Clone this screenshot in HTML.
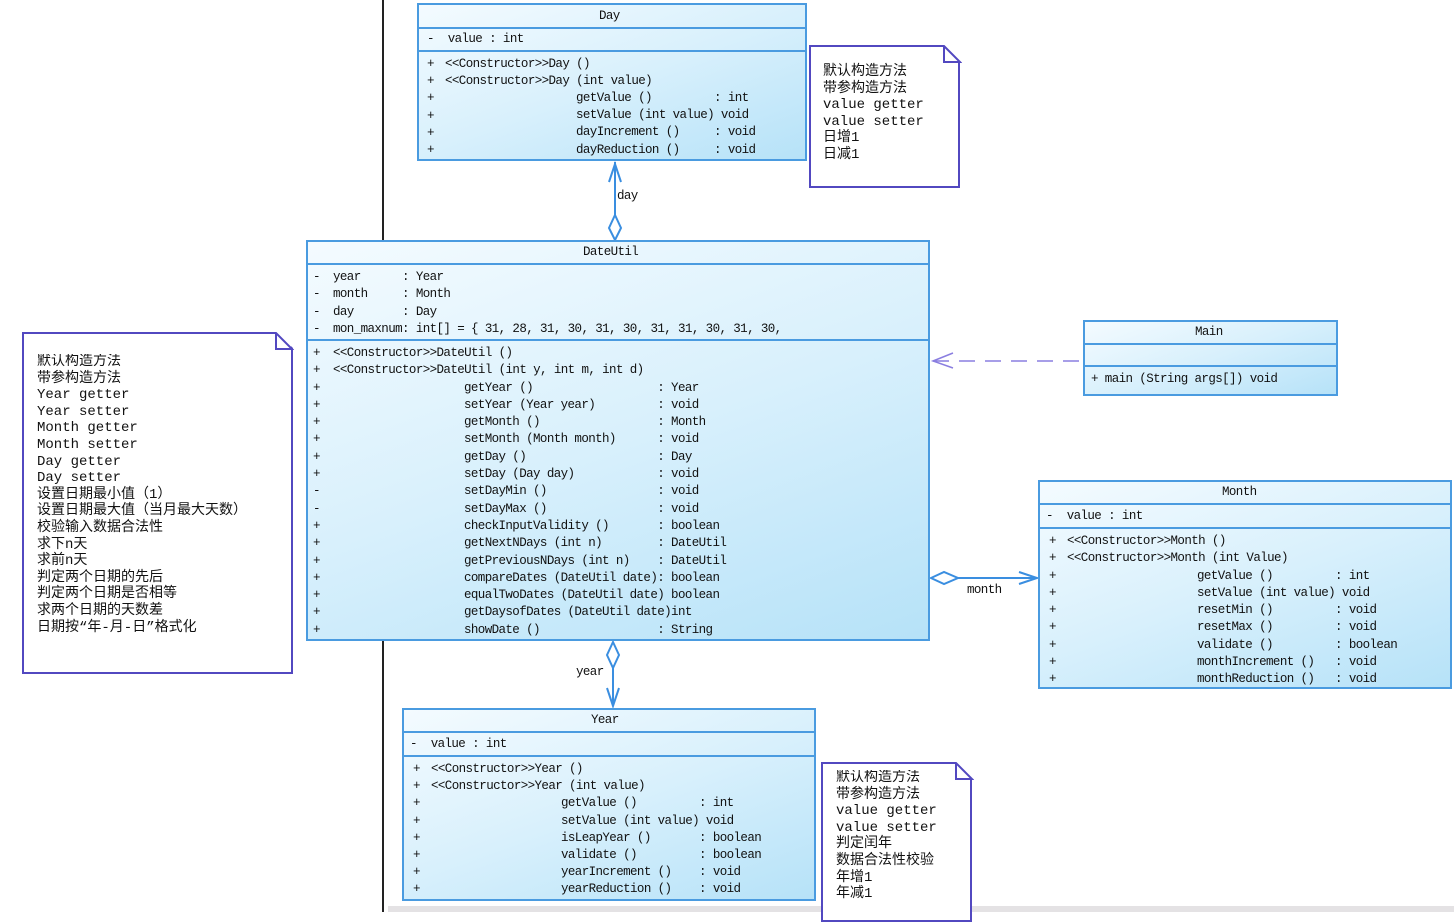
<!DOCTYPE html>
<html><head><meta charset="utf-8"><style>
body{margin:0;width:1454px;height:912px;background:#fff;position:relative;overflow:hidden;font-family:"Liberation Mono","Noto Sans CJK SC",monospace;font-size:12.5px;letter-spacing:-0.6px;color:#111}
.c{position:absolute;border:2px solid #4a9be0;background:linear-gradient(160deg,#f4fbff 0%,#d8f0fc 50%,#b6e2f8 100%);box-sizing:border-box}
.hl{position:absolute;left:0;right:0;border-top:2px solid #4a9be0}
.t{position:absolute;white-space:pre;line-height:14px}
.n{position:absolute;border:2px solid #5248c0;background:#fff;box-sizing:border-box}
.nt{position:absolute;white-space:pre;font-family:"Liberation Mono","Noto Sans CJK SC",monospace;font-size:14px;letter-spacing:0;line-height:16.6px}
</style></head><body>
<div style="position:absolute;left:382px;top:0;width:2px;height:912px;background:#222"></div>
<div style="position:absolute;left:388px;top:906px;width:1066px;height:6px;background:#e4e2e4"></div>

<svg width="1454" height="912" style="position:absolute;left:0;top:0">
<g stroke="#3a8ee0" stroke-width="2" fill="none">
<line x1="615" y1="162" x2="615" y2="215"/>
<polygon points="615,215 621,228 615,240 609,228" fill="#fff"/>
<polyline points="609,182 615,164 621,182"/>
<line x1="613" y1="668" x2="613" y2="706"/>
<polygon points="613,642 619,655 613,668 607,655" fill="#fff"/>
<polyline points="607,688 613,706 619,688"/>
<line x1="958" y1="578" x2="1037" y2="578"/>
<polygon points="931,578 944,572 958,578 944,584" fill="#fff"/>
<polyline points="1019,572 1037,578 1019,584"/>
</g>
<g stroke="#8a7ee0" stroke-width="1.5" fill="none">
<line x1="933" y1="361" x2="1083" y2="361" stroke-dasharray="16,10"/>
<polyline points="953,353 933,361 953,368"/>
</g>
</svg>
<div class="t" style="left:617px;top:189px">day</div>
<div class="t" style="left:576px;top:665px">year</div>
<div class="t" style="left:967px;top:583px">month</div>

<!-- Day -->
<div class="c" style="left:417px;top:3px;width:390px;height:158px">
<div class="hl" style="top:22px"></div><div class="hl" style="top:45px"></div>
<div class="t" style="left:180px;top:4px">Day</div>
<div class="t" style="left:8px;top:27px">-  value : int</div>
<div class="t" style="left:8px;top:51px;line-height:17.2px">+
+
+
+
+
+</div>
<div class="t" style="left:26px;top:51px;line-height:17.2px">&lt;&lt;Constructor&gt;&gt;Day ()
&lt;&lt;Constructor&gt;&gt;Day (int value)</div>
<div class="t" style="left:157px;top:85px;line-height:17.2px">getValue ()         : int
setValue (int value) void
dayIncrement ()     : void
dayReduction ()     : void</div>
</div>

<!-- DateUtil -->
<div class="c" style="left:306px;top:240px;width:624px;height:401px">
<div class="hl" style="top:21px"></div><div class="hl" style="top:97px"></div>
<div class="t" style="left:275px;top:3px">DateUtil</div>
<div class="t" style="left:5px;top:27px;line-height:17.3px">-
-
-
-</div>
<div class="t" style="left:25px;top:27px;line-height:17.3px">year      : Year
month     : Month
day       : Day
mon_maxnum: int[] = { 31, 28, 31, 30, 31, 30, 31, 31, 30, 31, 30,</div>
<div class="t" style="left:5px;top:103px;line-height:17.3px">+
+
+
+
+
+
+
+
-
-
+
+
+
+
+
+
+</div>
<div class="t" style="left:25px;top:103px;line-height:17.3px">&lt;&lt;Constructor&gt;&gt;DateUtil ()
&lt;&lt;Constructor&gt;&gt;DateUtil (int y, int m, int d)</div>
<div class="t" style="left:156px;top:137.6px;line-height:17.3px">getYear ()                  : Year
setYear (Year year)         : void
getMonth ()                 : Month
setMonth (Month month)      : void
getDay ()                   : Day
setDay (Day day)            : void
setDayMin ()                : void
setDayMax ()                : void
checkInputValidity ()       : boolean
getNextNDays (int n)        : DateUtil
getPreviousNDays (int n)    : DateUtil
compareDates (DateUtil date): boolean
equalTwoDates (DateUtil date) boolean
getDaysofDates (DateUtil date)int
showDate ()                 : String</div>
</div>

<!-- Main -->
<div class="c" style="left:1083px;top:320px;width:255px;height:76px">
<div class="hl" style="top:21px"></div><div class="hl" style="top:43px"></div>
<div class="t" style="left:110px;top:3px">Main</div>
<div class="t" style="left:6px;top:50px">+ main (String args[]) void</div>
</div>

<!-- Month -->
<div class="c" style="left:1038px;top:480px;width:414px;height:209px">
<div class="hl" style="top:21px"></div><div class="hl" style="top:45px"></div>
<div class="t" style="left:182px;top:3px">Month</div>
<div class="t" style="left:6px;top:27px">-  value : int</div>
<div class="t" style="left:9px;top:51px;line-height:17.3px">+
+
+
+
+
+
+
+
+</div>
<div class="t" style="left:27px;top:51px;line-height:17.3px">&lt;&lt;Constructor&gt;&gt;Month ()
&lt;&lt;Constructor&gt;&gt;Month (int Value)</div>
<div class="t" style="left:157px;top:85.6px;line-height:17.3px">getValue ()         : int
setValue (int value) void
resetMin ()         : void
resetMax ()         : void
validate ()         : boolean
monthIncrement ()   : void
monthReduction ()   : void</div>
</div>

<!-- Year -->
<div class="c" style="left:402px;top:708px;width:414px;height:193px">
<div class="hl" style="top:21px"></div><div class="hl" style="top:45px"></div>
<div class="t" style="left:187px;top:3px">Year</div>
<div class="t" style="left:6px;top:27px">-  value : int</div>
<div class="t" style="left:9px;top:51px;line-height:17.2px">+
+
+
+
+
+
+
+</div>
<div class="t" style="left:27px;top:51px;line-height:17.2px">&lt;&lt;Constructor&gt;&gt;Year ()
&lt;&lt;Constructor&gt;&gt;Year (int value)</div>
<div class="t" style="left:157px;top:85.4px;line-height:17.2px">getValue ()         : int
setValue (int value) void
isLeapYear ()       : boolean
validate ()         : boolean
yearIncrement ()    : void
yearReduction ()    : void</div>
</div>

<!-- notes -->
<div class="n" style="left:22px;top:332px;width:271px;height:342px;clip-path:polygon(0 0,254px 0,100% 16px,100% 100%,0 100%)"></div>
<svg style="position:absolute;left:272px;top:332px" width="22" height="20"><polyline points="3,1 3,0 20,17 4,17 4,1" fill="none" stroke="#5248c0" stroke-width="2"/></svg>
<div class="nt" style="left:37px;top:354px;width:238px;overflow:hidden">默认构造方法
带参构造方法
Year getter
Year setter
Month getter
Month setter
Day getter
Day setter
设置日期最小值（1）
设置日期最大值（当月最大天数）
校验输入数据合法性
求下n天
求前n天
判定两个日期的先后
判定两个日期是否相等
求两个日期的天数差
日期按“年-月-日”格式化</div>

<div class="n" style="left:809px;top:45px;width:151px;height:143px;clip-path:polygon(0 0,134px 0,100% 16px,100% 100%,0 100%)"></div>
<svg style="position:absolute;left:940px;top:45px" width="22" height="20"><polyline points="3,1 3,0 20,17 4,17 4,1" fill="none" stroke="#5248c0" stroke-width="2"/></svg>
<div class="nt" style="left:823px;top:64px">默认构造方法
带参构造方法
value getter
value setter
日增1
日减1</div>

<div class="n" style="left:821px;top:762px;width:151px;height:160px;clip-path:polygon(0 0,134px 0,100% 16px,100% 100%,0 100%)"></div>
<svg style="position:absolute;left:952px;top:762px" width="22" height="20"><polyline points="3,1 3,0 20,17 4,17 4,1" fill="none" stroke="#5248c0" stroke-width="2"/></svg>
<div class="nt" style="left:836px;top:770px;width:120px;overflow:hidden">默认构造方法
带参构造方法
value getter
value setter
判定闰年
数据合法性校验
年增1
年减1</div>
</body></html>
